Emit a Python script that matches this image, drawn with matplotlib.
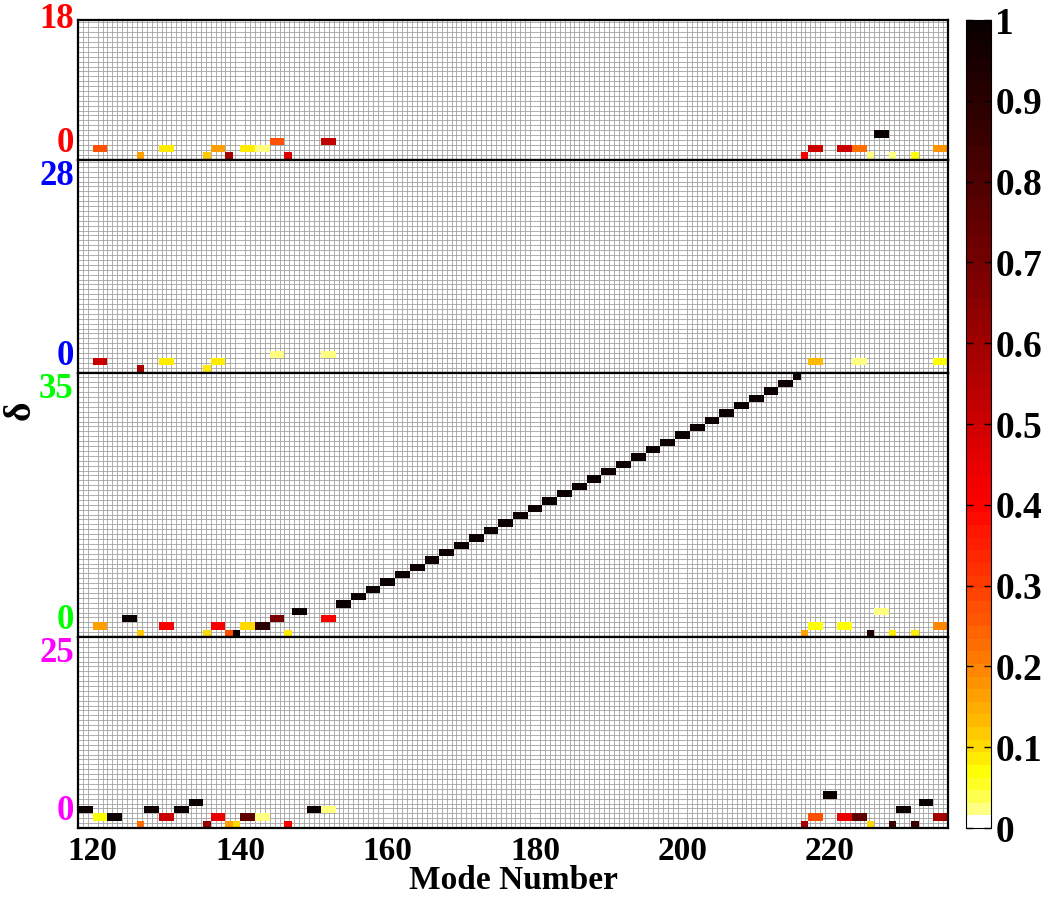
import numpy as np
import matplotlib.pyplot as plt
from matplotlib.colors import ListedColormap, Normalize
from matplotlib.ticker import MultipleLocator

# panel 1 (delta 0..18), red
p1_mode = [120, 121, 126, 129, 130, 135, 136, 137, 138, 140, 141, 142, 143, 144, 145, 146, 151, 152,
           216, 217, 218, 221, 222, 223, 224, 225, 226, 227, 228, 231, 234, 235]
p1_delta = [1, 1, 0, 1, 1, 0, 1, 1, 0, 1, 1, 1, 1, 2, 2, 0, 2, 2,
            0, 1, 1, 1, 1, 1, 1, 0, 3, 3, 0, 0, 1, 1]
p1_value = [0.27, 0.27, 0.17, 0.08, 0.08, 0.12, 0.17, 0.17, 0.58, 0.08, 0.08, 0.02, 0.02, 0.27, 0.27, 0.48, 0.53, 0.53,
            0.42, 0.5, 0.5, 0.5, 0.5, 0.23, 0.23, 0.02, 1.0, 1.0, 0.02, 0.07, 0.18, 0.18]

# panel 2 (delta 0..28), blue
p2_mode = [120, 121, 126, 129, 130, 135, 136, 137, 144, 145, 151, 152, 217, 218, 223, 224, 234, 235]
p2_delta = [1, 1, 0, 1, 1, 0, 1, 1, 2, 2, 2, 2, 1, 1, 1, 1, 1, 1]
p2_value = [0.5, 0.5, 0.58, 0.08, 0.08, 0.08, 0.08, 0.08, 0.02, 0.02, 0.02, 0.02,
            0.14, 0.14, 0.02, 0.02, 0.07, 0.07]

# panel 3 (delta 0..35), green
p3_mode = [120, 121, 124, 125, 126, 129, 130, 135, 136, 137, 138, 139, 140, 141, 142, 143, 144, 145, 146, 147, 148, 151, 152,
           216, 217, 218, 221, 222, 225, 226, 227, 228, 231, 234, 235]
p3_delta = [1, 1, 2, 2, 0, 1, 1, 0, 1, 1, 0, 0, 1, 1, 1, 1, 2, 2, 0, 3, 3, 2, 2,
            0, 1, 1, 1, 1, 0, 3, 3, 0, 0, 1, 1]
p3_value = [0.17, 0.17, 1.0, 1.0, 0.12, 0.42, 0.42, 0.1, 0.42, 0.42, 0.27, 1.0, 0.1, 0.1, 0.9, 0.9, 0.7, 0.7, 0.08, 1.0, 1.0, 0.42, 0.42,
            0.17, 0.07, 0.07, 0.07, 0.07, 0.95, 0.02, 0.02, 0.08, 0.08, 0.2, 0.2]

# the diagonal band in panel 3
diag_mode = [153, 154, 155, 156, 157, 158, 159, 160, 161, 162, 163, 164, 165, 166, 167, 168,
             169, 170, 171, 172, 173, 174, 175, 176, 177, 178, 179, 180, 181, 182, 183, 184,
             185, 186, 187, 188, 189, 190, 191, 192, 193, 194, 195, 196, 197, 198, 199, 200,
             201, 202, 203, 204, 205, 206, 207, 208, 209, 210, 211, 212, 213, 214, 215]
diag_delta = [4, 4, 5, 5, 6, 6, 7, 7, 8, 8, 9, 9, 10, 10, 11, 11,
              12, 12, 13, 13, 14, 14, 15, 15, 16, 16, 17, 17, 18, 18, 19, 19,
              20, 20, 21, 21, 22, 22, 23, 23, 24, 24, 25, 25, 26, 26, 27, 27,
              28, 28, 29, 29, 30, 30, 31, 31, 32, 32, 33, 33, 34, 34, 35]

# panel 4 (delta 0..25), magenta
p4_mode = [118, 119, 120, 121, 122, 123, 126, 127, 128, 129, 130, 131, 132, 133, 134, 135, 136, 137, 138, 139,
           140, 141, 142, 143, 146, 149, 150, 151, 152,
           216, 217, 218, 219, 220, 221, 222, 223, 224, 225, 228, 229, 230, 231, 232, 233, 234, 235]
p4_delta = [2, 2, 1, 1, 1, 1, 0, 2, 2, 1, 1, 2, 2, 3, 3, 0, 1, 1, 0, 0,
            1, 1, 1, 1, 0, 2, 2, 2, 2,
            0, 1, 1, 4, 4, 1, 1, 1, 1, 0, 0, 2, 2, 0, 3, 3, 1, 1]
p4_value = [1.0, 1.0, 0.07, 0.07, 1.0, 1.0, 0.22, 1.0, 1.0, 0.5, 0.5, 1.0, 1.0, 1.0, 1.0, 0.64, 0.45, 0.45, 0.17, 0.1,
            0.75, 0.75, 0.03, 0.03, 0.42, 1.0, 1.0, 0.03, 0.03,
            0.58, 0.27, 0.27, 1.0, 1.0, 0.45, 0.45, 0.75, 0.75, 0.1, 0.85, 1.0, 1.0, 0.85, 1.0, 1.0, 0.58, 0.58]

delta_max = [18, 28, 35, 25]
label_colors = ['red', 'blue', '#00ff00', 'magenta']
x_ticks = [120, 140, 160, 180, 200, 220]
cbar_ticks = [0, 0.1, 0.2, 0.3, 0.4, 0.5, 0.6, 0.7, 0.8, 0.9, 1]
cbar_labels = ['0', '0.1', '0.2', '0.3', '0.4', '0.5', '0.6', '0.7', '0.8', '0.9', '1']

mode_lo, mode_hi = 118, 236


def make_grid(modes, deltas, values, top):
    z = np.full((top + 1, mode_hi - mode_lo), np.nan)
    for m, d, v in zip(modes, deltas, values):
        z[d, m - mode_lo] = v
    return z


def main():
    plt.rcParams['font.family'] = ['Liberation Serif', 'DejaVu Serif']
    plt.rcParams['font.weight'] = 'bold'

    cmap = ListedColormap(plt.get_cmap('hot_r')(np.sqrt(np.linspace(0, 1, 64))))
    norm = Normalize(0, 1)

    grids = [
        make_grid(p1_mode, p1_delta, p1_value, delta_max[0]),
        make_grid(p2_mode, p2_delta, p2_value, delta_max[1]),
        make_grid(p3_mode + diag_mode, p3_delta + diag_delta,
                  p3_value + [1.0] * len(diag_mode), delta_max[2]),
        make_grid(p4_mode, p4_delta, p4_value, delta_max[3]),
    ]

    W, H = 1044, 905
    fig = plt.figure(figsize=(W / 100, H / 100), dpi=100)
    left, right = 78 / W, 948 / W
    top_px, bot_px = 20, 828
    nrows_total = sum(d + 1 for d in delta_max)
    px_per_row = (bot_px - top_px) / nrows_total

    y = top_px
    mesh = None
    for i, (z, dm) in enumerate(zip(grids, delta_max)):
        h = (dm + 1) * px_per_row
        ax = fig.add_axes([left, 1 - (y + h) / H, right - left, h / H])
        y += h
        xe = np.arange(mode_lo, mode_hi + 1)
        ye = np.arange(0, dm + 2)
        mesh = ax.pcolormesh(xe, ye, np.ma.masked_invalid(z), cmap=cmap, norm=norm, zorder=2)
        ax.set_xlim(mode_lo, mode_hi)
        ax.set_ylim(0, dm + 1)
        ax.xaxis.set_minor_locator(MultipleLocator(2 / 3))
        ax.yaxis.set_minor_locator(MultipleLocator(2 / 3))
        ax.grid(which='minor', color='0.63', lw=0.6)
        ax.set_axisbelow(True)
        ax.tick_params(which='minor', length=0)
        ax.tick_params(which='major', direction='in', length=0, labelsize=25)
        for s in ax.spines.values():
            s.set_linewidth(1.6)
            s.set_zorder(5)
        ax.set_yticks([0, dm + 1])
        ax.set_yticklabels(['0', str(dm)])
        labs = ax.get_yticklabels()
        labs[0].set_va('bottom')
        labs[1].set_va('center' if i == 0 else 'top')
        for lab in labs:
            lab.set_color(label_colors[i])
        ax.tick_params(axis='y', pad=3)
        ax.set_xticks(x_ticks)
        if i < 3:
            ax.set_xticklabels([])
        else:
            ax.tick_params(axis='x', pad=6, labelsize=24)
            ax.set_xlabel('Mode Number', fontsize=24, fontweight='bold', labelpad=-2)

    fig.text(20 / W, 1 - 410 / H, 'δ', rotation=90, fontsize=27,
             ha='center', va='center')

    cax = fig.add_axes([966 / W, 1 - bot_px / H, 25 / W, (bot_px - top_px) / H])
    cb = fig.colorbar(mesh, cax=cax, ticks=cbar_ticks)
    cb.set_ticklabels(cbar_labels)
    cb.outline.set_linewidth(0.8)
    cax.tick_params(direction='in', length=5, width=1, left=True, right=True,
                    labelsize=27, pad=3)

    fig.savefig('out.png', dpi=100)


if __name__ == '__main__':
    main()
